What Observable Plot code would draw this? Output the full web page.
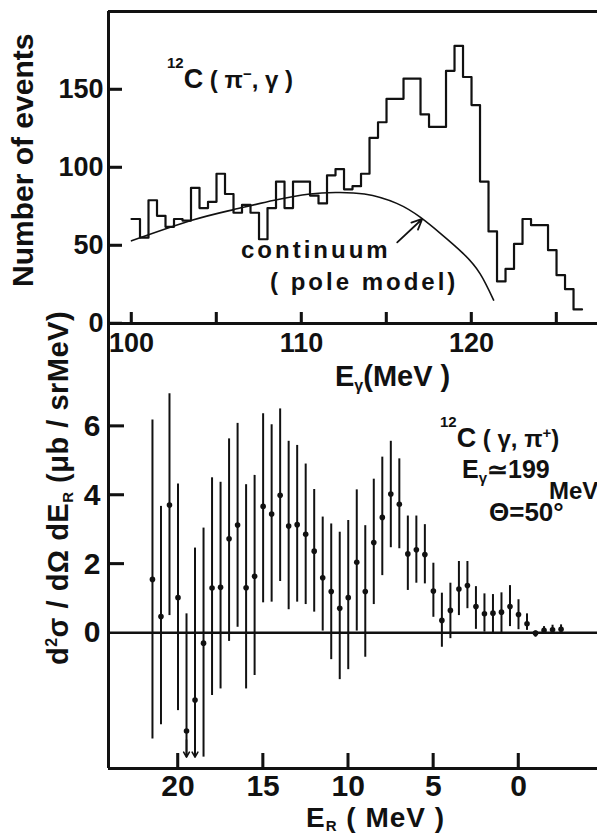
<!DOCTYPE html>
<html><head><meta charset="utf-8">
<script src="https://cdn.jsdelivr.net/npm/d3@7"></script>
<script src="https://cdn.jsdelivr.net/npm/@observablehq/plot@0.6"></script>
<style>
body{margin:0;background:#fff}
#wrap{position:relative;width:597px;height:838px;overflow:hidden;background:#fff}
#wrap svg{position:absolute;left:0;overflow:visible;background:transparent}
</style></head><body><div id="wrap"></div>
<script>
// ---------- top panel: 12C(pi-,gamma) histogram ----------
const histBinStart = [100,100.5,101,101.5,102,102.5,103,103.5,104,104.5,
  105,105.5,106,106.5,107,107.5,108,108.5,109,109.5,
  110,110.5,111,111.5,112,112.5,113,113.5,114,114.5,
  115,115.5,116,116.5,117,117.5,118,118.5,119,119.5,
  120,120.5,121,121.5,122,122.5,123,123.5,124,124.5,
  125,125.5,126];
const histCounts = [67,55,79,69,62,67,66,87,74,78,
  96,83,71,76,71,54,74,91,74,91,
  91,82,77,95,99,86,88,96,119,129,
  144,144,157,157,134,126,126,162,178,158,
  140,91,59,27,35,51,67,63,63,47,
  31,22,9];
const histBinWidth = 0.5;
const contE = [100,103.5,106,108.4,110.5,112,113.7,115.6,117,118.2,119.5,120.5,121.3];
const contN = [53,66,73,79,83,84,83,77,68,57.5,45,32,15];
const topXTicks = [100,105,110,115,120,125];
const topXLabels = [100,110,120];
const topYTicks = [0,50,100,150];

// ---------- bottom panel: 12C(gamma,pi+) cross section ----------
const erE   = [21.5,21,20.5,20,19.5,19,18.5,18,17.5,17,16.5,16,15.5,15,14.5,14,13.5,13,12.5,12,11.5,11,10.5,10,9.5,9,8.5,8,7.5,7,6.5,6,5.5,5,4.5,4,3.5,3,2.5,2,1.5,1,0.5,0,-0.5,-1,-1.5,-2,-2.5];
const erVal = [1.55,0.47,3.71,1.02,-2.85,-1.95,-0.3,1.3,1.32,2.73,3.13,1.31,1.64,3.67,3.45,3.99,3.1,3.14,2.86,2.37,1.6,1.2,0.71,1.02,2.05,1.2,2.62,3.35,4.03,3.73,2.29,2.41,2.27,1.21,0.36,0.65,1.27,1.37,0.76,0.55,0.57,0.6,0.76,0.53,0.26,-0.01,0.07,0.09,0.1];
const erLo  = [-3.08,-2.67,0.5,-2.26,-3.61,-3.61,-3.61,-1.82,-1.63,-0.25,0.16,-1.63,-1.24,0.87,0.89,1.49,0.67,0.89,0.82,0.6,0.05,-0.78,-1.36,-1.07,0.05,-0.71,0.82,1.66,2.47,2.44,1.23,1.44,1.42,0.45,-0.42,-0.17,0.5,0.7,0.1,0.02,0,0,0.18,0.09,0.07,-0.13,-0.05,0,0];
const erHi  = [6.18,3.67,6.94,4.32,0.55,2.46,3.04,4.5,4.37,5.63,6.08,4.3,4.57,6.36,6.04,6.5,5.56,5.44,4.9,4.16,3.36,3.16,2.92,3.26,4.15,3.11,4.46,5.1,5.56,5.05,3.39,3.39,3.14,2.02,1.15,1.44,2.07,2.07,1.34,1.13,1.11,1.16,1.37,0.96,0.55,0.05,0.18,0.22,0.23];
const erArrowE = [19.5,19];
const botXTicks = [20,15,10,5,0];
const botYTicks = [0,2,4,6];

// ---------- layout ----------
const W = 597, H = 838, AX = 323;
const ML = 108;
const topMT = 11, botMB = 70;
const topXDomain = [98.647, 127.41];
const topYDomain = [0, 200];
const botXDomain = [24.082, -4.64];
const botYDomain = [-3.94, 8.98];
const font = "'Liberation Sans', Arial, Helvetica, sans-serif";
const ink = "#111";

const topFrameW = W - ML, topFrameH = AX - topMT;
const botFrameW = W - ML, botFrameH = H - AX - botMB;
const topXPerPx = (topXDomain[1] - topXDomain[0]) / topFrameW;
const topYPerPx = (topYDomain[1] - topYDomain[0]) / topFrameH;
const botXPerPx = (botXDomain[1] - botXDomain[0]) / botFrameW;
const botYPerPx = (botYDomain[1] - botYDomain[0]) / botFrameH;

const hist = histBinStart.map((e, i) => ({e, n: histCounts[i]}));
hist.push({e: histBinStart[histBinStart.length - 1] + histBinWidth, n: histCounts[histCounts.length - 1]});
const cont = contE.map((e, i) => ({e, n: contN[i]}));
const err = erE.map((e, i) => ({e, v: erVal[i], lo: erLo[i], hi: erHi[i]}));
const errArrows = err.filter(d => erArrowE.includes(d.e));

const topChart = Plot.plot({
  width: W, height: H,
  marginLeft: ML, marginRight: 0, marginTop: topMT, marginBottom: H - AX,
  x: {domain: topXDomain},
  y: {domain: topYDomain},
  style: {font: `bold 27px ${font}`, color: ink, background: "transparent", overflow: "visible"},
  marks: [
    Plot.ruleY([topYDomain[1]], {stroke: ink, strokeWidth: 3}),
    Plot.ruleX([topXDomain[0]], {stroke: ink, strokeWidth: 3}),
    Plot.ruleY(topYTicks, {y: d => d, x1: topXDomain[0], x2: topXDomain[0] + 14 * topXPerPx, stroke: ink, strokeWidth: 2.5}),
    Plot.ruleX(topXTicks, {x: d => d, y1: topYDomain[0], y2: topYDomain[0] + 11 * topYPerPx, stroke: ink, strokeWidth: 2.5}),
    Plot.axisY({ticks: topYTicks, tickSize: 0, tickPadding: 5, label: null}),
    Plot.axisX({ticks: topXLabels, tickSize: 0, tickPadding: 9, label: null}),
    Plot.line(hist, {x: "e", y: "n", curve: "step-after", stroke: ink, strokeWidth: 2.2}),
    Plot.line(cont, {x: "e", y: "n", curve: "natural", stroke: ink, strokeWidth: 1.6}),
    Plot.arrow([{x1: 115.63, y1: 52, x2: 117.1, y2: 67}], {x1: "x1", y1: "y1", x2: "x2", y2: "y2", headLength: 11, headAngle: 50, stroke: ink, strokeWidth: 1.8}),
    Plot.ruleY([0], {stroke: ink, strokeWidth: 3})
  ]
});
topChart.style.top = "0px";

const botChart = Plot.plot({
  width: W, height: H - AX,
  marginLeft: ML, marginRight: 0, marginTop: 0, marginBottom: botMB,
  x: {domain: botXDomain},
  y: {domain: botYDomain},
  style: {font: `bold 30px ${font}`, color: ink, background: "transparent", overflow: "visible"},
  marks: [
    Plot.ruleX([botXDomain[0]], {stroke: ink, strokeWidth: 3}),
    Plot.ruleY([botYDomain[0]], {stroke: ink, strokeWidth: 3}),
    Plot.ruleY([0], {stroke: ink, strokeWidth: 2.5}),
    Plot.ruleY(botYTicks.filter(d => d !== 0), {y: d => d, x1: botXDomain[0], x2: botXDomain[0] + 16 * botXPerPx, stroke: ink, strokeWidth: 2.5}),
    Plot.ruleX(botXTicks, {x: d => d, y1: botYDomain[0], y2: botYDomain[0] + 15 * botYPerPx, stroke: ink, strokeWidth: 2.5}),
    Plot.axisY({ticks: botYTicks, tickSize: 0, tickPadding: 8, label: null}),
    Plot.axisX({ticks: botXTicks, tickSize: 0, tickPadding: 6, label: null}),
    Plot.ruleX(err, {x: "e", y1: "lo", y2: "hi", stroke: ink, strokeWidth: 2}),
    Plot.dot(err, {x: "e", y: "v", r: 2.8, fill: ink, stroke: "none"}),
    Plot.arrow(errArrows, {x1: "e", x2: "e", y1: d => d.lo + 0.5, y2: "lo", headLength: 8, headAngle: 60, stroke: ink, strokeWidth: 1.6})
  ]
});
botChart.style.top = AX + "px";

const wrap = document.getElementById("wrap");
wrap.appendChild(topChart);
wrap.appendChild(botChart);

// ---------- inward tick marks again, through the charts' own scales ----------
function inwardTicks(chart, xDom0, yDom0, yTicks, xTicks, yLen, xLen) {
  const sx = chart.scale("x"), sy = chart.scale("y");
  const x0 = sx.apply(xDom0), y0 = sy.apply(yDom0);
  const g = d3.select(chart).append("g").attr("stroke", ink).attr("stroke-width", 2.5).attr("fill", "none");
  for (const v of yTicks) {
    const y = sy.apply(v);
    g.append("line").attr("x1", x0).attr("x2", x0 + yLen).attr("y1", y).attr("y2", y);
  }
  for (const v of xTicks) {
    const x = sx.apply(v);
    g.append("line").attr("x1", x).attr("x2", x).attr("y1", y0).attr("y2", y0 - xLen);
  }
}
inwardTicks(topChart, topXDomain[0], topYDomain[0], topYTicks, topXTicks, 14, 11);
inwardTicks(botChart, botXDomain[0], botYDomain[0], botYTicks.filter(d => d !== 0), botXTicks, 16, 15);

// ---------- text annotations (real text, page coordinates in top svg) ----------
function txt(svg, x, y, parts, {size = 24, rotate = 0, anchor = "start", spacing = 0} = {}) {
  const t = d3.select(svg).append("text")
    .attr("font-family", font).attr("font-weight", "bold").attr("font-size", size)
    .attr("fill", ink).attr("text-anchor", anchor).attr("letter-spacing", spacing);
  if (rotate) t.attr("transform", `translate(${x},${y}) rotate(${rotate})`);
  else t.attr("x", x).attr("y", y);
  let cur = 0;
  for (const p of parts) {
    const [s, opt = {}] = Array.isArray(p) ? p : [p];
    const shift = opt.shift || 0;
    const ts = t.append("tspan").text(s).attr("dy", cur - shift);
    cur = shift;
    if (opt.size) ts.attr("font-size", opt.size);
  }
}
const S = topChart;
txt(S, 167, 88, [["12", {size: 15, shift: 20}], ["C", {size: 27}], [" ( π", {size: 24}], ["−", {size: 15, shift: 9}], [", γ )", {size: 24}]]);
txt(S, 241, 258, ["continuum"], {size: 24, spacing: 3});
txt(S, 270, 290, ["( pole model)"], {size: 24, spacing: 3});
txt(S, 335, 386, [["E", {size: 29}], ["γ", {size: 16, shift: -5}], ["(MeV )", {size: 29}]]);
txt(S, 33, 287, ["Number of events"], {size: 30, rotate: -90});
txt(S, 68, 665, [["d"], ["2", {size: 16, shift: 11}], ["σ / dΩ dE"], ["R", {size: 15, shift: -5}], [" (μb / srMeV)"]], {size: 29, rotate: -90, spacing: 0.5});
txt(S, 440, 447, [["12", {size: 15, shift: 20}], ["C", {size: 27}], [" ( γ, π", {size: 24}], ["+", {size: 15, shift: 9}], [")", {size: 24}]]);
txt(S, 462, 478, [["E", {size: 25}], ["γ", {size: 15, shift: -5}], ["≃199", {size: 25}]]);
txt(S, 549, 499, ["MeV"], {size: 24});
txt(S, 489, 521, ["Θ=50°"], {size: 26});
txt(S, 306, 827, [["E", {size: 28}], ["R", {size: 15, shift: -4}], [" ( MeV )", {size: 28}]], {spacing: 1});
</script></body></html>
